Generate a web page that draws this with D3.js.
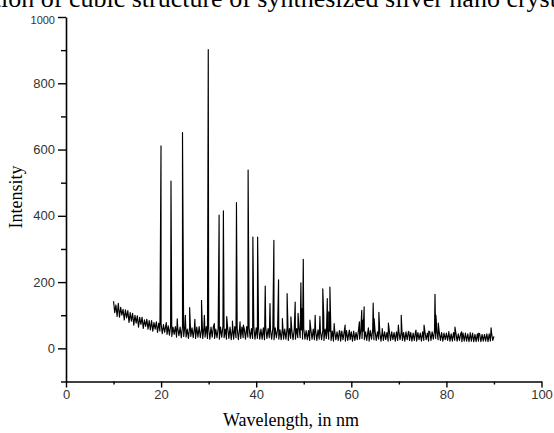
<!DOCTYPE html>
<html>
<head>
<meta charset="utf-8">
<script src="https://cdn.jsdelivr.net/npm/d3@7"></script>
<style>
  html, body { margin: 0; padding: 0; background: #fff; }
  svg { display: block; }
</style>
</head>
<body>
<svg id="chart" width="554" height="433"></svg>
<script>
// ---------- data ----------
const titleText = "Confirmation of cubic structure of synthesized silver nano crystals";
const xLabel = "Wavelength, in nm";
const yLabel = "Intensity";
const xMajorTicks = [0, 20, 40, 60, 80, 100];
const xMinorTicks = [10, 30, 50, 70, 90];
const yMajorTicks = [0, 200, 400, 600, 800, 1000];
const yMinorTicks = [-100, 100, 300, 500, 700, 900];

// background (noisy) intensity, one reading every 0.25 nm from 10 nm to 90 nm
const baseStart = 10, baseStep = 0.25;
const baseIntensity = [
  142,108,131,96, 136,94,124,100, 118,86,116,92, 114,78,108,82, 106,70,100,76,
  98,64,94,72, 94,60,86,66, 88,58,84,56, 84,52,78,58, 80,48,76,52,
  74,44,72,48, 70,42,68,40, 68,36,64,42, 66,34,62,38, 64,32,66,36,
  66,34,58,30, 64,36,62,32, 62,30,64,34, 66,32,58,30, 62,34,66,30,
  60,28,64,34, 66,30,58,32, 60,28,64,34, 66,32,58,28, 62,30,64,26,
  60,28,66,32, 62,26,60,30, 64,32,58,28, 66,34,62,30, 60,30,64,28,
  62,30,60,28, 58,28,62,26, 64,30,60,32, 56,28,62,26, 62,32,58,28,
  56,26,60,28, 58,28,62,24, 60,30,54,26, 58,28,60,32, 62,32,56,28,
  60,28,54,26, 54,24,56,28, 58,26,54,24, 56,28,52,26, 54,24,58,30,
  56,28,52,24, 52,22,54,26, 50,24,54,22, 52,26,50,22, 54,24,48,26,
  50,22,52,24, 48,26,54,28, 56,30,52,26, 50,24,52,22, 54,28,56,26,
  52,24,50,28, 48,22,52,24, 50,26,48,22, 52,24,50,26, 48,22,50,24,
  52,26,50,24, 48,22,50,26, 50,24,48,22, 46,24,50,22, 48,26,46,22,
  50,24,48,26, 46,22,50,24, 50,28,52,30, 52,26,48,24, 48,22,46,26,
  46,24,48,22, 44,22,48,24, 46,22,44,24, 44,20,46,22, 46,22,44,20,
  44,22,46,20, 42,20,44,22, 44,20,42,22, 42,22,44,20, 44,22,46,24,
  36
];

// diffraction peaks: [wavelength, intensity]
const peakWavelength = [
  19.98, 21.1, 22.08, 23.4, 24.5, 25.1, 26.0, 27.1, 28.5, 29.1, 29.92, 31.2,
  32.2, 33.1, 33.8, 35.0, 35.85, 36.6, 37.3, 38.3, 39.3, 40.3, 41.9, 42.9,
  43.72, 44.7, 45.5, 46.5, 47.3, 48.2, 48.8, 49.4, 49.65, 49.9, 51.3, 52.4,
  53.4, 54.0, 54.2, 54.95, 55.25, 55.5, 56.4, 57.6, 58.7, 59.6, 61.7, 62.2,
  62.45, 62.7, 63.6, 64.6, 64.8, 65.8, 66.5, 67.8, 69.9, 70.5, 72.1, 73.6,
  75.3, 76.3, 77.6, 77.8, 78.3, 80.5, 81.8, 83.2, 85.0, 86.8, 89.4
];
const peakIntensity = [
  611, 78, 505, 89, 651, 100, 123, 88, 145, 100, 902, 75,
  402, 415, 96, 82, 440, 80, 70, 538, 336, 336, 188, 135,
  326, 207, 90, 165, 95, 140, 106, 198, 120, 269, 85, 100,
  97, 180, 100, 150, 110, 185, 75, 51, 70, 55, 80, 115,
  85, 125, 62, 137, 90, 109, 60, 76, 70, 100, 51, 55,
  70, 52, 163, 100, 76, 51, 64, 50, 48, 46, 62
];

// ---------- build series ----------
const spectrum = baseIntensity.map((v, i) => ({ x: baseStart + i * baseStep, y: v }))
  .concat(peakWavelength.map((w, i) => ({ x: w, y: peakIntensity[i] })))
  .sort((a, b) => a.x - b.x);

// ---------- drawing ----------
const svg = d3.select("#chart");
const x = d3.scaleLinear().domain([0, 100]).range([66, 541.5]);
const y = d3.scaleLinear().domain([-100, 1000]).range([381.5, 17]);
const serif = "'Liberation Serif', 'Times New Roman', serif";

// title (cropped at top edge, as in the source figure)
const titleSize = 26;
const title = svg.append("text")
  .attr("y", 6.5)
  .attr("font-family", serif)
  .attr("font-size", titleSize)
  .attr("fill", "#000")
  .text(titleText);
const probe = svg.append("text")
  .attr("font-family", serif)
  .attr("font-size", titleSize)
  .text("Confirmat");
const prefixW = probe.node().getComputedTextLength();
probe.remove();
title.attr("x", 1 - prefixW);

// spectrum line
svg.append("path")
  .datum(spectrum)
  .attr("fill", "none")
  .attr("stroke", "#000")
  .attr("stroke-width", 1.15)
  .attr("stroke-linejoin", "round")
  .attr("d", d3.line().x(d => x(d.x)).y(d => y(d.y)));

// axes
const tickFont = "'Liberation Sans', Arial, sans-serif";
const yAxisG = svg.append("g").attr("transform", "translate(66,0)")
  .call(d3.axisLeft(y).tickValues(yMajorTicks).tickFormat(d3.format("d"))
    .tickSize(8).tickPadding(3).tickSizeOuter(0));
svg.append("g").attr("transform", "translate(66,0)")
  .call(d3.axisLeft(y).tickValues(yMinorTicks).tickSize(5).tickFormat("").tickSizeOuter(0))
  .select(".domain").remove();
const xAxisG = svg.append("g").attr("transform", "translate(0,381.5)")
  .call(d3.axisBottom(x).tickValues(xMajorTicks).tickFormat(d3.format("d"))
    .tickSize(6).tickPadding(2).tickSizeOuter(0));
svg.append("g").attr("transform", "translate(0,381.5)")
  .call(d3.axisBottom(x).tickValues(xMinorTicks).tickSize(3).tickFormat("").tickSizeOuter(0))
  .select(".domain").remove();

svg.selectAll(".domain").attr("stroke", "#000").attr("stroke-width", 1.6);
svg.selectAll(".tick line").attr("stroke", "#000").attr("stroke-width", 1.4);
svg.selectAll(".tick text")
  .attr("font-family", tickFont)
  .attr("font-size", 13)
  .attr("fill", "#333");
yAxisG.selectAll(".tick text").filter(d => d === 1000)
  .attr("font-size", 11)
  .attr("dy", "0.55em");

// axis titles
svg.append("text")
  .attr("x", 291).attr("y", 426)
  .attr("text-anchor", "middle")
  .attr("font-family", serif)
  .attr("font-size", 18)
  .attr("fill", "#000")
  .text(xLabel);
svg.append("text")
  .attr("transform", "translate(22,197) rotate(-90)")
  .attr("text-anchor", "middle")
  .attr("font-family", serif)
  .attr("font-size", 18)
  .attr("fill", "#000")
  .text(yLabel);
</script>
</body>
</html>
